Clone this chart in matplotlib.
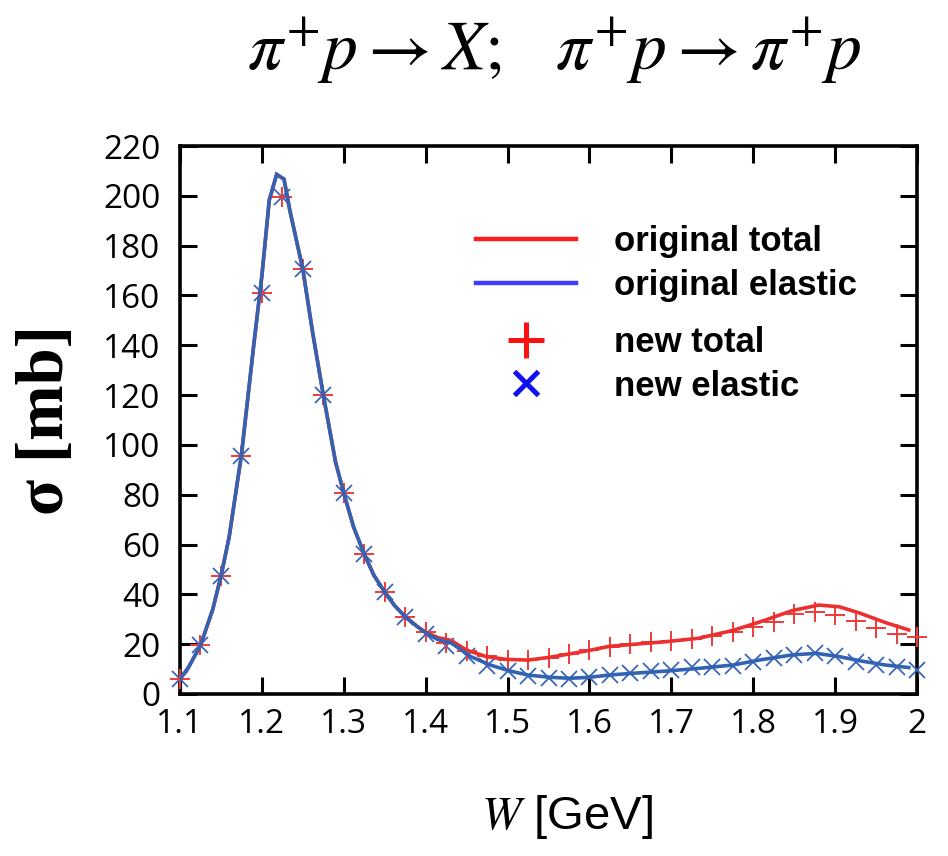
import matplotlib
matplotlib.use("Agg")
import matplotlib.pyplot as plt
from matplotlib.lines import Line2D

plt.rcParams["mathtext.fontset"] = "stix"

# Energy grid of the new calculation (GeV)
w_new = [1.100, 1.125, 1.150, 1.175, 1.200, 1.225, 1.250, 1.275, 1.300, 1.325,
         1.350, 1.375, 1.400, 1.425, 1.450, 1.475, 1.500, 1.525, 1.550, 1.575,
         1.600, 1.625, 1.650, 1.675, 1.700, 1.725, 1.750, 1.775, 1.800, 1.825,
         1.850, 1.875, 1.900, 1.925, 1.950, 1.975, 2.000]
# New total cross section (mb)
sig_tot_new = [6.0, 19.5, 47.3, 95.5, 161.0, 199.5, 170.5, 120.0, 80.6, 56.1,
               40.9, 31.0, 24.8, 20.5, 17.3, 15.3, 13.6, 13.5, 14.3, 16.0,
               17.8, 19.0, 20.0, 20.7, 21.2, 22.1, 23.3, 25.0, 27.0, 29.0,
               32.0, 33.0, 31.7, 29.4, 26.4, 24.1, 22.8]
# New elastic cross section (mb)
sig_el_new = [6.0, 19.5, 47.3, 95.5, 161.0, 199.5, 170.5, 120.0, 80.6, 56.1,
              40.9, 31.0, 24.2, 19.2, 15.3, 11.4, 9.3, 7.4, 6.5, 6.1,
              6.7, 7.6, 8.3, 9.1, 9.8, 10.7, 11.0, 11.4, 13.0, 14.3,
              15.7, 16.3, 15.3, 13.0, 11.6, 10.7, 9.6]

# Original parametrisation, total (W in GeV, sigma in mb)
w_orig_tot = [1.100, 1.110, 1.125, 1.140, 1.150, 1.160, 1.175, 1.190, 1.200,
              1.209, 1.218, 1.227, 1.234, 1.250, 1.262, 1.275, 1.290, 1.300,
              1.312, 1.325, 1.337, 1.350, 1.362, 1.375, 1.390, 1.400, 1.415,
              1.431, 1.450, 1.474, 1.498, 1.525, 1.551, 1.576, 1.600, 1.624,
              1.653, 1.694, 1.734, 1.775, 1.807, 1.848, 1.880, 1.905, 1.929,
              1.962, 1.990]
sig_orig_tot = [6.0, 10.5, 19.5, 34.0, 47.3, 63.0, 96.0, 140.0, 168.0,
                198.3, 208.6, 206.7, 194.3, 170.5, 145.0, 120.0, 93.0, 80.6,
                67.0, 56.1, 47.5, 40.9, 35.5, 31.0, 27.0, 24.8, 22.6,
                21.5, 17.6, 15.0, 13.9, 13.6, 14.7, 16.1, 17.5, 19.1,
                19.9, 21.0, 22.4, 25.5, 28.8, 33.5, 35.7, 35.0, 32.6,
                28.6, 25.7]

# Original parametrisation, elastic
w_orig_el = [1.100, 1.110, 1.125, 1.140, 1.150, 1.160, 1.175, 1.190, 1.200,
             1.209, 1.218, 1.227, 1.234, 1.250, 1.262, 1.275, 1.290, 1.300,
             1.312, 1.325, 1.337, 1.350, 1.362, 1.375, 1.390, 1.400, 1.415,
             1.431, 1.455, 1.479, 1.503, 1.525, 1.551, 1.576, 1.600, 1.624,
             1.653, 1.694, 1.734, 1.775, 1.807, 1.848, 1.877, 1.905, 1.929,
             1.962, 1.990]
sig_orig_el = [6.0, 10.5, 19.5, 34.0, 47.3, 63.0, 96.0, 140.0, 168.0,
               198.3, 208.6, 206.7, 194.3, 170.5, 145.0, 120.0, 93.0, 80.6,
               67.0, 56.1, 47.5, 40.9, 35.5, 31.0, 27.0, 24.5, 21.8,
               20.5, 15.0, 11.6, 9.2, 7.6, 6.7, 6.3, 6.7, 7.6,
               8.3, 9.2, 10.3, 11.6, 13.6, 15.7, 16.3, 15.0, 13.4,
               11.6, 10.6]

x_ticks = [1.1, 1.2, 1.3, 1.4, 1.5, 1.6, 1.7, 1.8, 1.9, 2.0]
x_tick_labels = ["1.1", "1.2", "1.3", "1.4", "1.5", "1.6", "1.7", "1.8", "1.9", "2"]
y_ticks = list(range(0, 221, 20))

RED_CURVE = "#ec2f2f"
BLUE_CURVE = "#3262b2"
RED_MARK = "#f03a3a"
BLUE_MARK = "#3a66ba"

fig = plt.figure(figsize=(9.48, 8.56), dpi=100)
ax = fig.add_axes([0.1899, 0.1893, 0.9673 - 0.1899, 0.8294 - 0.1893])

ax.plot(w_new, sig_el_new, linestyle="none", marker="x", markersize=12,
        markeredgewidth=1.3, color=BLUE_MARK, clip_on=False, zorder=3)
ax.plot(w_new, sig_tot_new, linestyle="none", marker="+", markersize=14,
        markeredgewidth=1.4, color=RED_MARK, clip_on=False, zorder=3)
ax.plot(w_orig_tot, sig_orig_tot, color=RED_CURVE, linewidth=2.6, zorder=4,
        solid_joinstyle="miter")
ax.plot(w_orig_el, sig_orig_el, color=BLUE_CURVE, linewidth=2.6, zorder=5,
        solid_joinstyle="miter")

ax.set_xlim(1.1, 2.0)
ax.set_ylim(0, 220)
ax.set_xticks(x_ticks)
ax.set_xticklabels(x_tick_labels)
ax.set_yticks(y_ticks)

for s in ax.spines.values():
    s.set_linewidth(2.6)
ax.tick_params(axis="both", which="both", direction="in", length=12, width=2.2,
               top=True, right=True, labelsize=24)
ax.tick_params(axis="x", pad=10)
ax.tick_params(axis="y", pad=14)
for lab in ax.get_xticklabels() + ax.get_yticklabels():
    lab.set_family("Open Sans")

ax.set_xlabel(r"$\mathit{W}$ [GeV]", fontsize=34, family="Liberation Sans")
ax.xaxis.set_label_coords(0.525, -0.18)
ax.set_ylabel("σ [mb]", fontsize=48, family="Liberation Serif", fontweight="bold")
ax.yaxis.set_label_coords(-0.14, 0.5)

fig.text(0.584, 0.94,
         r"$\pi^{+}p \rightarrow X;\;\;\; \pi^{+}p \rightarrow \pi^{+}p$",
         fontsize=50, ha="center", va="center")

legend_font = {"family": "Liberation Sans", "weight": "bold", "size": 25}
legend_kw = dict(loc="upper left", frameon=False, handlelength=2.88,
                 handletextpad=1.1, labelspacing=0.31, borderpad=0,
                 borderaxespad=0, prop=legend_font)

curve_handles = [
    Line2D([], [], color="#ff1c1c", linewidth=3.2),
    Line2D([], [], color="#3c3cff", linewidth=3.2),
]
curve_labels = ["original total", "original elastic"]
leg_curves = ax.legend(curve_handles, curve_labels,
                       bbox_to_anchor=(0.4016, 0.855), **legend_kw)
ax.add_artist(leg_curves)

point_handles = [
    Line2D([], [], color="#ff1010", linestyle="none", marker="+",
           markersize=26, markeredgewidth=3.6),
    Line2D([], [], color="#1010f0", linestyle="none", marker="x",
           markersize=17, markeredgewidth=3.6),
]
point_labels = ["new total", "new elastic"]
ax.legend(point_handles, point_labels,
          bbox_to_anchor=(0.4016, 0.672), **legend_kw)

fig.savefig("out.png", dpi=100)
